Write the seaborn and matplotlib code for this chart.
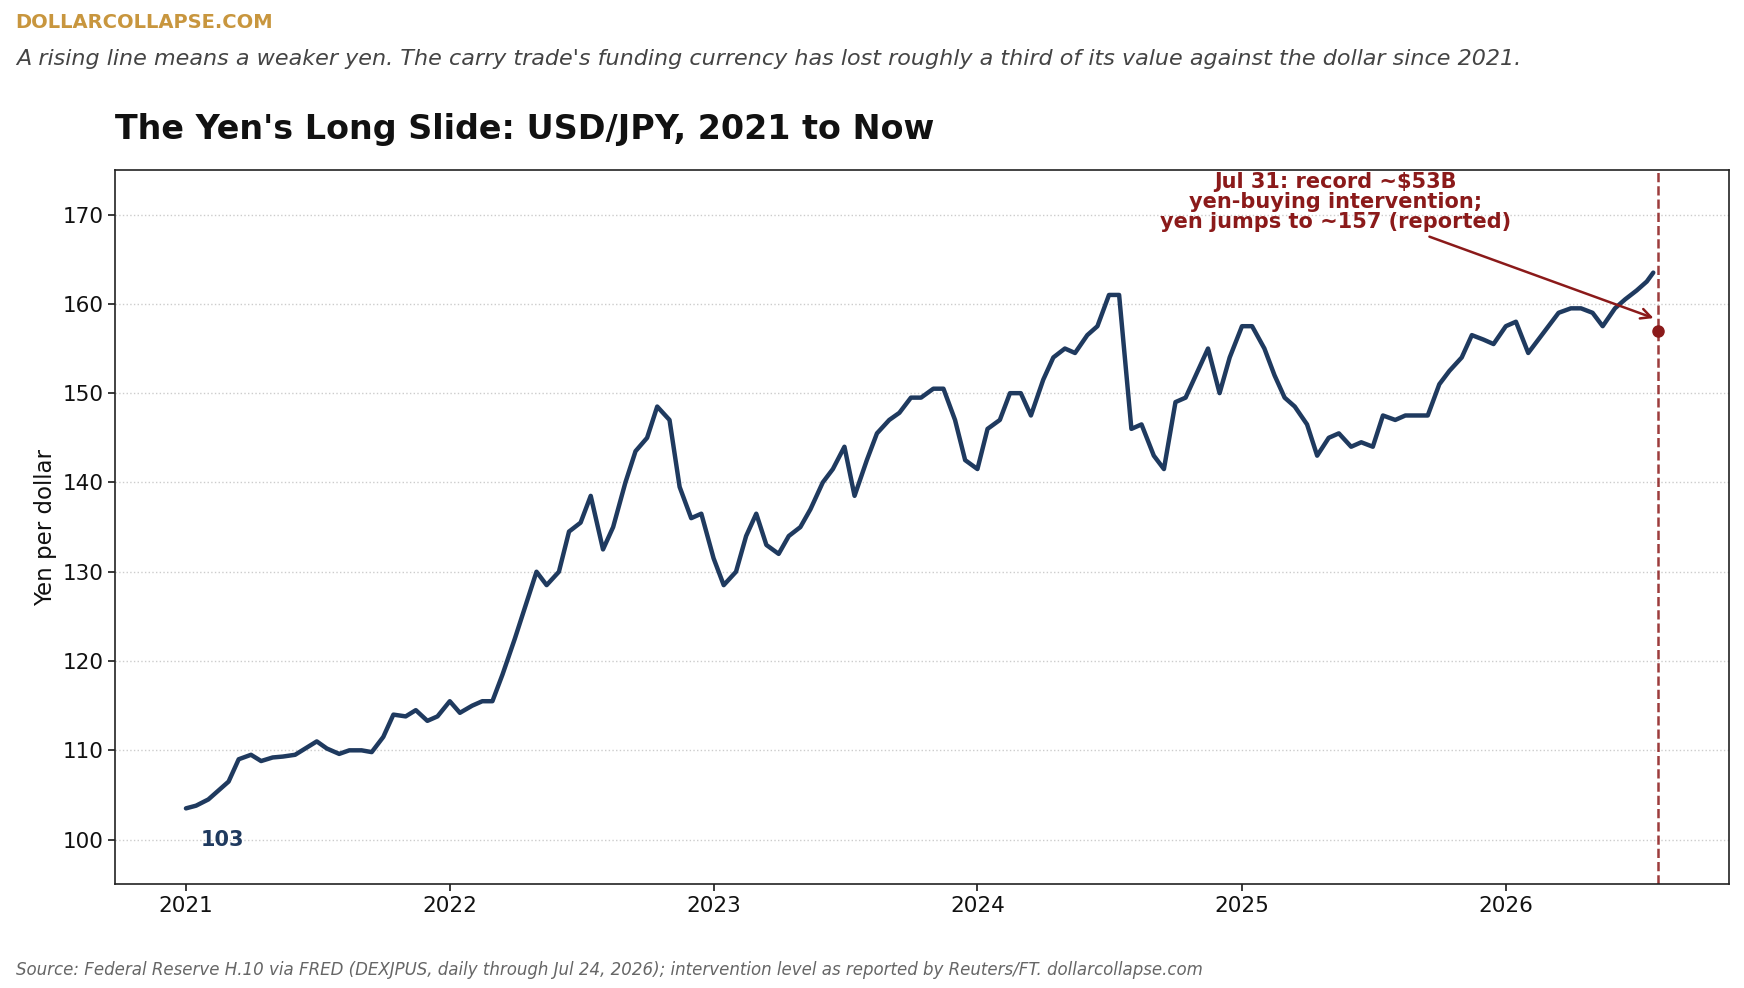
import matplotlib
matplotlib.use("Agg")
import matplotlib.pyplot as plt
import matplotlib.dates as mdates
import seaborn as sns
import pandas as pd

dates = (list(pd.date_range("2021-01-01", "2026-07-15", freq="SMS")) + [pd.Timestamp("2026-07-24")])
values = [
 103.5,103.8,104.5,105.5,106.5,109,109.5,108.8,109.2,109.3,109.5,110.2,111,110.2,109.6,110,110,109.8,111.5,114,113.8,114.5,113.3,113.8,
 115.5,114.2,115,115.5,115.5,118.5,122.5,126,130,128.5,130,134.5,135.5,138.5,132.5,135,140,143.5,145,148.5,147,139.5,136,136.5,
 131.5,128.5,130,134,136.5,133,132,134,135,137,140,141.5,144,138.5,142.5,145.5,147,147.8,149.5,149.5,150.5,150.5,147,142.5,
 141.5,146,147,150,150,147.5,151.5,154,155,154.5,156.5,157.5,161,161,146,146.5,143,141.5,149,149.5,152.5,155,150,154,
 157.5,157.5,155,152,149.5,148.5,146.5,143,145,145.5,144,144.5,144,147.5,147,147.5,147.5,147.5,151,152.5,154,156.5,156,155.5,
 157.5,158,154.5,156,157.5,159,159.5,159.5,159,157.5,159.5,160.5,161.5,162.5,163.5]
df = pd.DataFrame({"date": dates, "usdjpy": values})
event_date = pd.Timestamp("2026-07-31")
event_value = 157

sns.set_theme(style="white")
plt.rcParams['font.family'] = ['DejaVu Sans']
fig = plt.figure(figsize=(17.44, 9.88), dpi=100)
ax = fig.add_axes([0.066, 0.105, 0.9255, 0.723])
sns.lineplot(data=df, x="date", y="usdjpy", ax=ax, color="#1f3a5f", linewidth=3.2)
ax.set_ylim(95, 175)
ax.set_xlim(pd.Timestamp("2020-09-25"), pd.Timestamp("2026-11-06"))
ax.set_yticks(range(100, 171, 10))
ax.xaxis.set_major_locator(mdates.YearLocator())
ax.xaxis.set_major_formatter(mdates.DateFormatter("%Y"))
ax.grid(axis="y", linestyle=":", color="#cccccc", linewidth=1)
for s in ax.spines.values():
    s.set_color("#222222"); s.set_linewidth(1.2)
ax.tick_params(axis="both", labelsize=15.5, length=5, color="#222222", left=True, bottom=True, labelcolor="#111111")
ax.set_xlabel("")
ax.set_ylabel("Yen per dollar", fontsize=16.5, color="#111111")
ax.axvline(event_date, color="#8b1a1a", linestyle="--", linewidth=1.8, alpha=0.85)
ax.plot([event_date], [event_value], "o", color="#8b1a1a", markersize=8)
ax.annotate("Jul 31: record ~$53B\nyen-buying intervention;\nyen jumps to ~157 (reported)",
            xy=(event_date - pd.Timedelta(days=3), event_value + 1.3),
            xytext=(pd.Timestamp("2025-05-10"), 168.0), ha="center", va="bottom",
            fontsize=15, fontweight="bold", color="#8b1a1a", linespacing=1.0,
            arrowprops=dict(arrowstyle="->", color="#8b1a1a", lw=1.8, mutation_scale=18))
ax.text(pd.Timestamp("2021-02-20"), 100, "103", fontsize=15, fontweight="bold",
        color="#1f3a5f", ha="center", va="center")
ax.set_title("The Yen's Long Slide: USD/JPY, 2021 to Now", loc="left", fontsize=24,
             fontweight="bold", pad=22, color="#111111")
fig.text(0.009, 0.977, "DOLLARCOLLAPSE.COM", fontsize=14, fontweight="bold", color="#c8963e", va="center")
fig.text(0.009, 0.94, "A rising line means a weaker yen. The carry trade's funding currency has lost roughly a third of its value against the dollar since 2021.",
         fontsize=16, style="italic", color="#444444", va="center")
fig.text(0.009, 0.018, "Source: Federal Reserve H.10 via FRED (DEXJPUS, daily through Jul 24, 2026); intervention level as reported by Reuters/FT. dollarcollapse.com",
         fontsize=12, style="italic", color="#666666", va="center")
fig.savefig("out.png", dpi=100)
